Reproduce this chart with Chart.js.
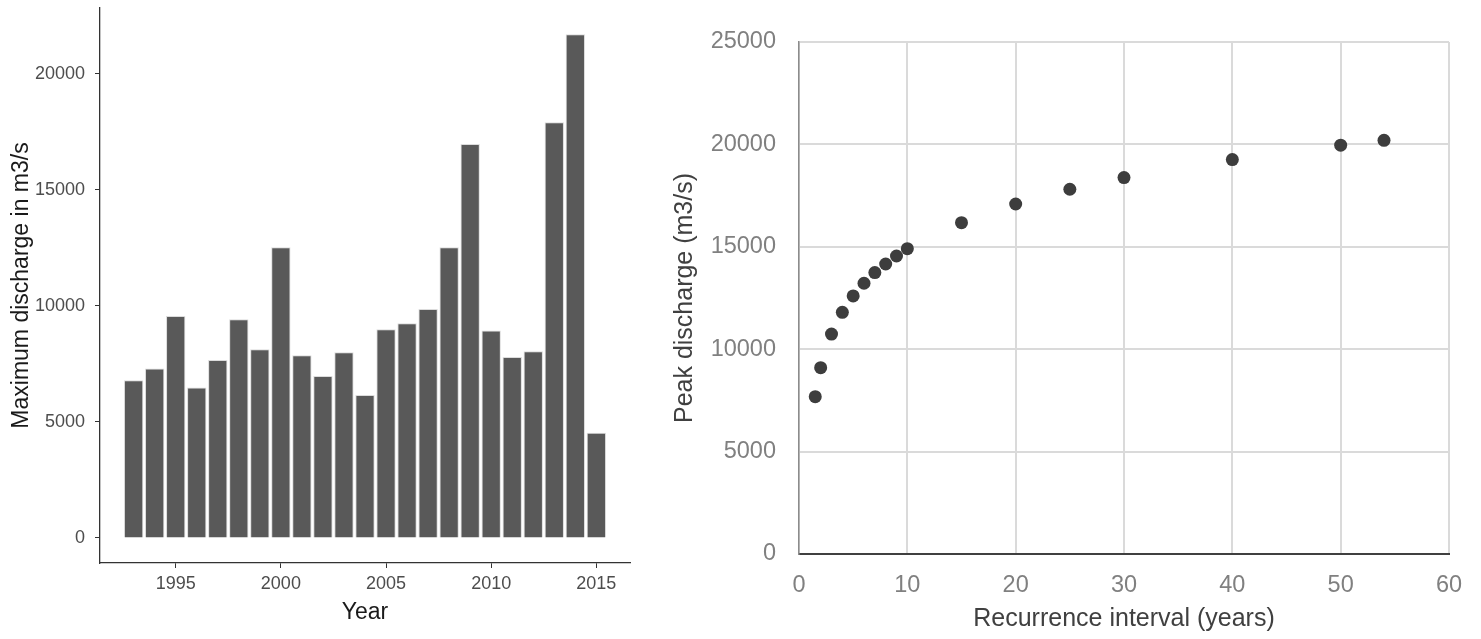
<!DOCTYPE html>
<html>
<head>
<meta charset="utf-8">
<title>Discharge charts</title>
<script src="https://cdn.jsdelivr.net/npm/chart.js@4.4.0/dist/chart.umd.min.js"></script>
<style>
  html, body { margin: 0; padding: 0; background: #ffffff; }
  body { width: 1481px; height: 639px; position: relative; overflow: hidden; }
  canvas { position: absolute; top: 0; }
  #annual { left: 0; }
  #frequency { left: 640px; }
</style>
</head>
<body>
<canvas id="annual" width="640" height="639"></canvas>
<canvas id="frequency" width="841" height="639"></canvas>
<script>
// Annual maximum discharge per year (m3/s)
const years = [1993, 1994, 1995, 1996, 1997, 1998, 1999, 2000, 2001, 2002, 2003, 2004,
               2005, 2006, 2007, 2008, 2009, 2010, 2011, 2012, 2013, 2014, 2015];
const maxDischarge = [6800, 7300, 9570, 6480, 7670, 9430, 8130, 12530, 7870, 6980, 8000, 6160,
                      8990, 9250, 9870, 12530, 16980, 8940, 7800, 8050, 17920, 21710, 4530];
const yearTicks = [1995, 2000, 2005, 2010, 2015];
const dischargeTicks = [0, 5000, 10000, 15000, 20000];

// Flood frequency: recurrence interval (years) vs peak discharge (m3/s)
const recurrenceYears = [1.5, 2, 3, 4, 5, 6, 7, 8, 9, 10, 15, 20, 25, 30, 40, 50, 54];
const peakDischarge = [7680, 9100, 10740, 11800, 12600, 13220, 13740, 14160, 14550, 14910,
                       16180, 17090, 17810, 18380, 19260, 19960, 20200];
const recurrenceTicks = [0, 10, 20, 30, 40, 50, 60];
const peakTicks = [0, 5000, 10000, 15000, 20000, 25000];

const SANS = "'Liberation Sans', Arial, Helvetica, sans-serif";

const fixedTicks = values => scale => { scale.ticks = values.map(v => ({ value: v })); };
const plain = v => String(v);

new Chart(document.getElementById('annual'), {
  type: 'bar',
  data: {
    datasets: [{
      data: years.map((yr, i) => ({ x: yr, y: maxDischarge[i] })),
      backgroundColor: '#595959',
      borderColor: '#dcdcdc',
      borderWidth: 1,
      barPercentage: 0.92,
      categoryPercentage: 1
    }]
  },
  options: {
    responsive: false,
    animation: false,
    devicePixelRatio: 1,
    layout: { padding: { left: 0, right: 10, top: 8, bottom: 0 } },
    plugins: { legend: { display: false }, tooltip: { enabled: false } },
    scales: {
      x: {
        type: 'linear',
        offset: false,
        min: 1991.4,
        max: 2016.6,
        afterBuildTicks: fixedTicks(yearTicks),
        afterFit: s => { s.height = 76; s.paddingLeft = 0; s.paddingRight = 0; },
        grid: { display: true, offset: false, drawOnChartArea: false, drawTicks: true, tickLength: 5, color: '#333333', lineWidth: 1 },
        border: { display: true, color: '#333333', width: 1.3 },
        ticks: { padding: 5, color: '#4d4d4d', maxRotation: 0, autoSkip: false, callback: plain,
                 font: { family: SANS, size: 18 } },
        title: { display: true, text: 'Year', color: '#1a1a1a',
                 font: { family: SANS, size: 23 }, padding: { top: 0, bottom: 13 } }
      },
      y: {
        type: 'linear',
        min: -1080,
        max: 22840,
        afterBuildTicks: fixedTicks(dischargeTicks),
        afterFit: s => { s.width = 100; s.paddingTop = 0; s.paddingBottom = 0; },
        grid: { display: true, drawOnChartArea: false, drawTicks: true, tickLength: 5, color: '#333333', lineWidth: 1 },
        border: { display: true, color: '#333333', width: 1.3 },
        ticks: { padding: 10, color: '#4d4d4d', callback: plain,
                 font: { family: SANS, size: 18 } },
        title: { display: true, text: 'Maximum discharge in m3/s', color: '#1a1a1a',
                 font: { family: SANS, size: 23 }, padding: { top: 8, bottom: 0 } }
      }
    }
  }
});

new Chart(document.getElementById('frequency'), {
  type: 'scatter',
  data: {
    datasets: [{
      data: recurrenceYears.map((t, i) => ({ x: t, y: peakDischarge[i] })),
      backgroundColor: '#3d3d3d',
      borderWidth: 0,
      pointRadius: 6.5,
      pointHoverRadius: 6.5
    }]
  },
  options: {
    responsive: false,
    animation: false,
    devicePixelRatio: 1,
    layout: { padding: { left: 0, right: 32, top: 42, bottom: 0 } },
    plugins: { legend: { display: false }, tooltip: { enabled: false } },
    scales: {
      x: {
        type: 'linear',
        min: 0,
        max: 60,
        afterBuildTicks: fixedTicks(recurrenceTicks),
        afterFit: s => { s.height = 85; },
        grid: { color: '#dadada', lineWidth: 2, drawTicks: false },
        border: { display: true, color: '#404040', width: 2 },
        ticks: { padding: 17.5, color: '#808080', maxRotation: 0, autoSkip: false, callback: plain,
                 font: { family: SANS, size: 23.5 } },
        title: { display: true, text: 'Recurrence interval (years)', color: '#404040',
                 font: { family: SANS, size: 25 }, padding: { top: 0, bottom: 4.5 } }
      },
      y: {
        type: 'linear',
        min: 0,
        max: 25000,
        afterBuildTicks: fixedTicks(peakTicks),
        afterFit: s => { s.width = 159; },
        grid: { color: '#dadada', lineWidth: 2, drawTicks: false },
        border: { display: true, color: '#8c8c8c', width: 1.5 },
        ticks: { padding: 23, color: '#808080', callback: plain,
                 font: { family: SANS, size: 23.5 } },
        title: { display: true, text: 'Peak discharge (m3/s)', color: '#404040',
                 font: { family: SANS, size: 25 }, padding: { top: 30, bottom: 0 } }
      }
    }
  }
});
</script>
</body>
</html>
